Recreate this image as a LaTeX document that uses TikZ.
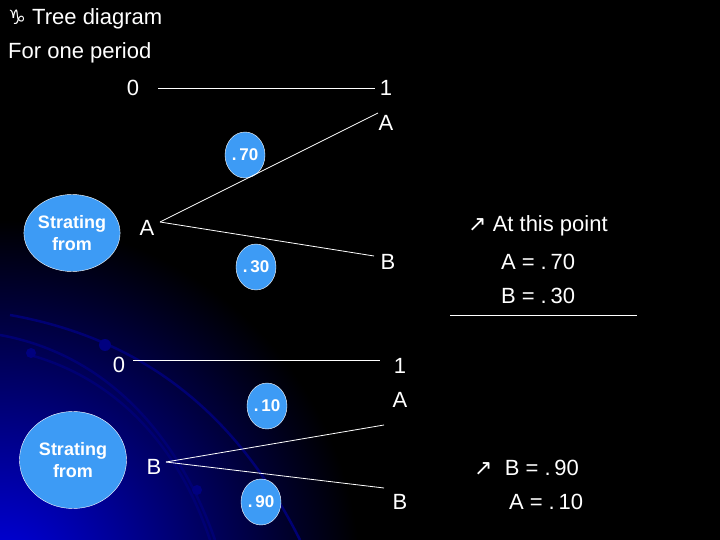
\documentclass[tikz,border=0pt]{standalone}
\usepackage{fontspec}
\usetikzlibrary{shapes.geometric}
\setmainfont{Liberation Sans}
\newfontfamily\symf{DejaVu Sans}
\definecolor{pblue}{HTML}{3D9BF5}
\begin{document}
\begin{tikzpicture}[x=1pt,y=-1pt,
 txt/.style={text=white,font=\fontsize{22}{26}\selectfont,inner sep=0pt},
 prob/.style={ellipse,draw=white,fill=pblue,text=white,font=\bfseries\fontsize{17}{19}\selectfont,inner sep=0pt,minimum width=40pt,minimum height=46pt},
 start/.style={ellipse,draw=white,fill=pblue,text=white,font=\bfseries\fontsize{18}{22}\selectfont,align=center,inner sep=0pt},
 ln/.style={white,line width=0.8pt},
 arc/.style={blue!45!black,line width=2.5pt}]
\useasboundingbox (0,0) rectangle (720,540);
\fill[black] (0,0) rectangle (720,540);
\begin{scope}
\clip (0,0) rectangle (720,540);
\shade[inner color=blue!90!black,outer color=black] (0,580) circle (360);
\draw[arc] (10,315) .. controls (150,340) and (240,420) .. (300,540);
\draw[arc] (0,335) .. controls (110,355) and (180,440) .. (215,540);
\draw[arc] (30,355) .. controls (120,380) and (180,450) .. (210,540);
\fill[blue!50!black] (105,345) circle (6);
\fill[blue!50!black] (31,353) circle (5);
\fill[blue!50!black] (197,490) circle (5);
\end{scope}
\node[txt,anchor=west] (t1) at (8,19) {{\symf\fontsize{20}{22}\selectfont ♑} Tree diagram};
\node[txt,anchor=west] (t2) at (8,53) {For one period};
% first tree
\node[txt] (z1) at (133,88) {0};
\node[txt] (o1) at (386,88) {1};
\draw[ln] (158,88) -- (375,88);
\node[txt] (a1) at (386,123) {A};
\node[prob] (p70) at (245,155) {.\,70};
\node[start,minimum width=96pt,minimum height=77pt] (s1) at (72,233) {Strating\\from};
\node[txt] (ra) at (147,228) {A};
\node[prob] (p30) at (256,267) {.\,30};
\node[txt] (b1) at (388,262) {B};
\draw[ln] (160,222) coordinate (ra1) -- (378,113);
\draw[ln] (ra1) -- (374,256);
\node[txt,anchor=west] (n1) at (468,226) {{\symf\fontsize{22}{24}\selectfont ↗} At this point};
\node[txt] (n2) at (538,262) {A = .\,70};
\node[txt] (n3) at (538,296) {B = .\,30};
\draw[white,line width=0.6pt] (450,315) -- (637,315);
% second tree
\node[txt] (z2) at (119,365) {0};
\node[txt] (o2) at (400,366) {1};
\draw[ln] (133,360) -- (380,360);
\node[txt] (a2) at (400,400) {A};
\node[prob] (p10) at (267,406) {.\,10};
\node[start,minimum width=107pt,minimum height=97pt] (s2) at (73,460) {Strating\\from};
\node[txt] (rb) at (154,467) {B};
\draw[ln] (166,462) coordinate (rb1) -- (384,425);
\draw[ln] (rb1) -- (384,488);
\node[prob] (p90) at (261,502) {.\,90};
\node[txt] (b2) at (400,502) {B};
\node[txt,anchor=west] (m1) at (474,468) {{\symf\fontsize{22}{24}\selectfont ↗}\ \ B = .\,90};
\node[txt] (m2) at (546,502) {A = .\,10};
\end{tikzpicture}
\end{document}
